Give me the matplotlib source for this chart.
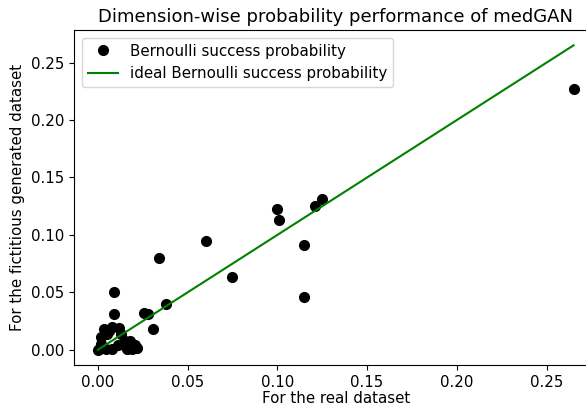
import numpy as np
import matplotlib
matplotlib.use("Agg")
import matplotlib.pyplot as plt

# probabilites par dimension
real_p = [0.265, 0.100, 0.101, 0.125, 0.121, 0.115, 0.115, 0.060, 0.075, 0.034,
          0.038, 0.026, 0.028, 0.009, 0.009, 0.031, 0.0035, 0.008, 0.012, 0.0017,
          0.005, 0.0007, 0.0044, 0.008, 0.011, 0.015, 0.018, 0.021, 0.016, 0.019,
          0.0, 0.002, 0.006, 0.013, 0.022]
fake_p = [0.227, 0.123, 0.113, 0.131, 0.125, 0.091, 0.046, 0.095, 0.063, 0.080,
          0.040, 0.032, 0.031, 0.050, 0.031, 0.018, 0.018, 0.020, 0.019, 0.011,
          0.014, 0.001, 0.001, 0.001, 0.004, 0.008, 0.008, 0.004, 0.001, 0.001,
          0.0, 0.005, 0.016, 0.014, 0.002]

ideal = [0.0, max(real_p)]

plt.rcParams['font.size'] = 10.8
plt.rcParams['axes.titlesize'] = 13

fig = plt.figure(figsize=(5.86, 4.07), dpi=100)
ax = fig.add_axes([0.1263, 0.103, 0.893, 0.823])
ax.plot(real_p, fake_p, 'ko', markersize=7, label='Bernoulli success probability')
ax.plot(ideal, ideal, 'g-', label='ideal Bernoulli success probability')
ax.set_xlabel('For the real dataset', labelpad=1)
ax.set_ylabel('For the fictitious generated dataset')
ax.set_title('Dimension-wise probability performance of medGAN')
ax.legend(loc='upper left')
fig.savefig('out.png', dpi=100)
